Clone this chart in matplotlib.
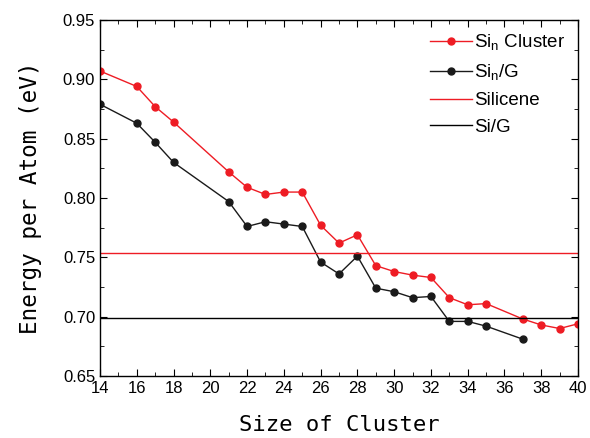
import matplotlib.pyplot as plt
from matplotlib.ticker import MultipleLocator

size_red = [14, 16, 17, 18, 21, 22, 23, 24, 25, 26, 27, 28, 29, 30, 31, 32, 33, 34, 35, 37, 38, 39, 40]
energy_red = [0.907, 0.894, 0.877, 0.864, 0.822, 0.809, 0.803, 0.805, 0.805, 0.777, 0.762, 0.769,
              0.743, 0.738, 0.735, 0.733, 0.716, 0.710, 0.711, 0.698, 0.693, 0.690, 0.694]
size_black = [14, 16, 17, 18, 21, 22, 23, 24, 25, 26, 27, 28, 29, 30, 31, 32, 33, 34, 35, 37]
energy_black = [0.879, 0.863, 0.847, 0.830, 0.797, 0.776, 0.780, 0.778, 0.776, 0.746, 0.736, 0.751,
                0.724, 0.721, 0.716, 0.717, 0.696, 0.696, 0.692, 0.681]
silicene = 0.754
si_g = 0.699

plt.rcParams['font.family'] = ['Liberation Sans', 'DejaVu Sans']

fig = plt.figure(figsize=(5.9, 4.38), dpi=100)
ax = fig.add_axes([0.1695, 0.1416, 0.8102, 0.8127])

ax.plot(size_red, energy_red, color='#ee1c24', marker='o', markersize=5, lw=1,
        label='Si$_\\mathregular{n}$ Cluster')
ax.plot(size_black, energy_black, color='#1a1a1a', marker='o', markersize=5, lw=1,
        label='Si$_\\mathregular{n}$/G')
ax.axhline(silicene, color='#ee1c24', lw=1, label='Silicene')
ax.axhline(si_g, color='black', lw=1, label='Si/G')

ax.set_xlim(14, 40)
ax.set_ylim(0.65, 0.95)
ax.xaxis.set_major_locator(MultipleLocator(2))
ax.xaxis.set_minor_locator(MultipleLocator(1))
ax.yaxis.set_major_locator(MultipleLocator(0.05))
ax.yaxis.set_minor_locator(MultipleLocator(0.025))
ax.yaxis.set_major_formatter(lambda v, p: f'{v:.2f}')
ax.tick_params(which='both', direction='in', top=True, right=True, labelsize=12)
ax.tick_params(which='major', length=5)
ax.tick_params(which='minor', length=3)
for s in ax.spines.values():
    s.set_linewidth(1)

ax.set_xlabel('Size of Cluster', family='DejaVu Sans Mono', fontsize=16, labelpad=14)
ax.set_ylabel('Energy per Atom (eV)', family='DejaVu Sans Mono', fontsize=16.3, labelpad=15)

ax.legend(loc='upper right', frameon=False, fontsize=13.5, handlelength=2.2,
          handletextpad=0.15, labelspacing=0.5, bbox_to_anchor=(1.009, 1.012))

fig.savefig('out.png')
